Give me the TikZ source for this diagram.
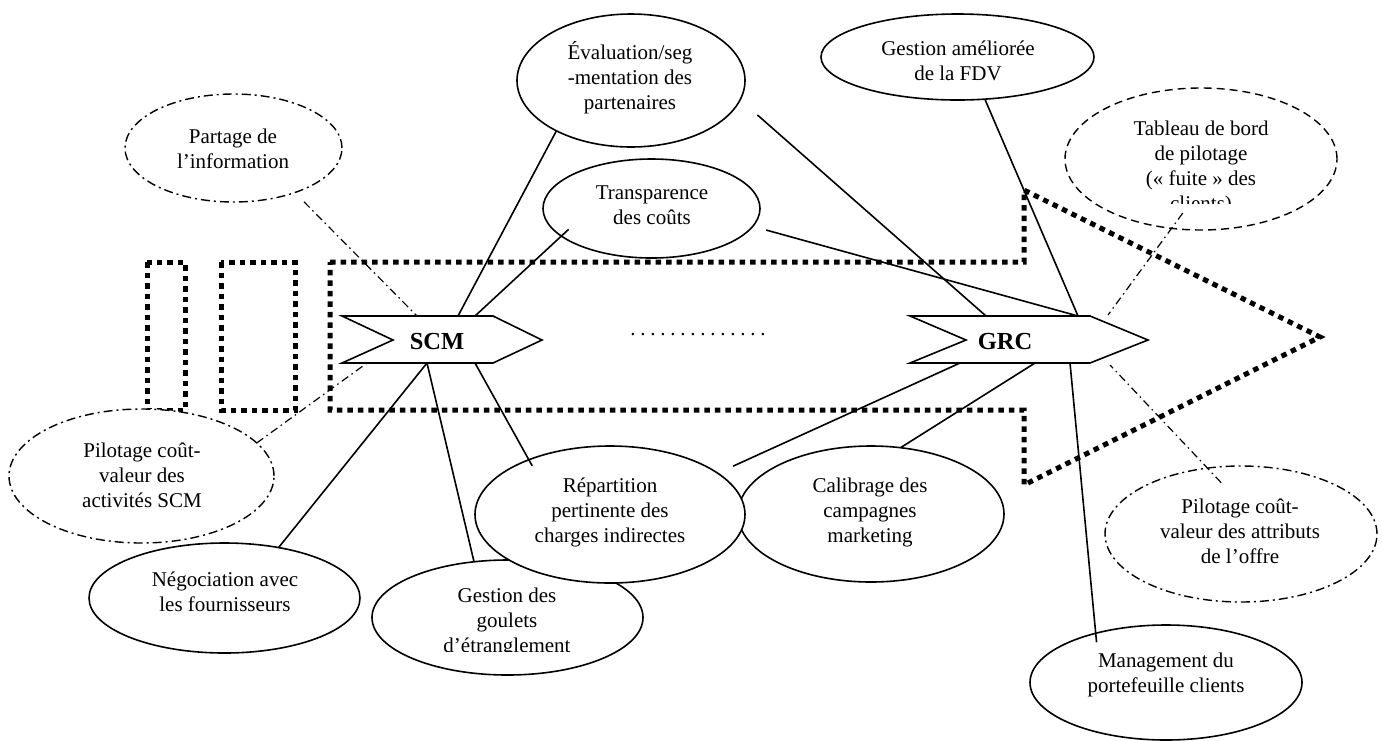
\documentclass[tikz,border=0pt]{standalone}
\usepackage{fontspec}
\setmainfont{Liberation Serif}
\usetikzlibrary{shapes.geometric}
\begin{document}
\begin{tikzpicture}[x=1pt,y=-1pt,
  ell/.style={ellipse, draw, fill=white, line width=1.6pt, inner sep=0pt, outer sep=0pt},
  ddell/.style={ell, line width=1.4pt, dash pattern=on 9pt off 4pt on 2pt off 4pt},
  dashell/.style={ell, line width=1.4pt, dash pattern=on 8pt off 5pt},
  txt/.style={align=center, inner sep=0pt, font=\fontsize{21}{25}\selectfont},
  bigdot/.style={line width=5pt, dash pattern=on 5.5pt off 5pt},
  arrowshape/.style={draw, fill=white, line width=1.6pt, line join=miter},
  conn/.style={line width=1.6pt},
  ddconn/.style={line width=1.2pt, dash pattern=on 8pt off 4pt on 1.5pt off 4pt},
  lbl/.style={font=\fontsize{24.5}{28}\selectfont\bfseries, inner sep=0pt, anchor=base},
]
\useasboundingbox (0,0) rectangle (1382,740);

% thick dotted frames
\draw[bigdot] (147,262) rectangle (185,410);
\draw[bigdot] (221,262) rectangle (295,410);
\draw[bigdot] (330,262) -- (1024,262) -- (1024,190) -- (1320,337) -- (1024,485) -- (1024,410) -- (330,410) -- cycle;

% process arrows
\draw[arrowshape] (342,316) -- (493,316) -- (542,340) -- (493,363) -- (342,363) -- (393,340) -- cycle;
\draw[arrowshape] (910,316) -- (1090,316) -- (1148,340) -- (1090,363) -- (910,363) -- (966,340) -- cycle;
\node[lbl] (scm) at (437,349) {SCM};
\node[lbl] (grc) at (1005,349) {GRC};
\node[txt, anchor=base] (dots) at (698,335) {.\hspace{4.75pt}.\hspace{4.75pt}.\hspace{4.75pt}.\hspace{4.75pt}.\hspace{4.75pt}.\hspace{4.75pt}.\hspace{4.75pt}.\hspace{4.75pt}.\hspace{4.75pt}.\hspace{4.75pt}.\hspace{4.75pt}.\hspace{4.75pt}.\hspace{4.75pt}.};

\coordinate (scmA) at (417,316);
\coordinate (scmB) at (458,316);
\coordinate (scmC) at (475,316);
\coordinate (scmD) at (367,363);
\coordinate (scmE) at (427,363);
\coordinate (scmF) at (475,363);
\coordinate (grcA) at (986,316);
\coordinate (grcB) at (1078,316);
\coordinate (grcC) at (1108,315);
\coordinate (grcD) at (960,363);
\coordinate (grcE) at (1035,363);
\coordinate (grcF) at (1070,363);
\coordinate (grcG) at (1110,365);

% ellipses
\node[ddell, minimum width=217pt, minimum height=108pt] (part) at (233.5,148) {};
\node[ell, minimum width=228pt, minimum height=133pt] (eval) at (631,80.5) {};
\node[ell, minimum width=217pt, minimum height=99pt] (transp) at (651.5,208.5) {};
\node[ell, minimum width=273pt, minimum height=86pt] (gam) at (957.5,57) {};
\node[dashell, minimum width=272pt, minimum height=142pt] (tab) at (1201,159) {};
\node[ddell, minimum width=265pt, minimum height=134pt] (pscm) at (141.5,476) {};
\node[ell, minimum width=271pt, minimum height=110pt] (neg) at (224.5,598) {};
\node[ell, minimum width=271pt, minimum height=115pt] (goul) at (507.5,617.5) {};
\node[ell, minimum width=266pt, minimum height=136pt] (cal) at (871,514) {};
\node[ell, minimum width=270pt, minimum height=137pt] (rep) at (610,514.5) {};
\node[ddell, minimum width=272pt, minimum height=136pt] (poff) at (1241,534) {};
\node[ell, minimum width=272pt, minimum height=115pt] (man) at (1166,682.5) {};

% texts
\node[txt] (partT) at (233,149) {Partage de\\l’information};
\node[txt] (evalT) at (630,78) {Évaluation/seg\\-mentation des\\partenaires};
\node[txt] (transpT) at (652,205) {Transparence\\des coûts};
\node[txt] (gamT) at (958,61) {Gestion améliorée\\de la FDV};
\begin{scope}
\clip (1060,100) rectangle (1340,203);
\node[txt] (tabT) at (1201,167.5) {Tableau de bord\\de pilotage\\(«~fuite~» des\\clients)};
\end{scope}
\node[txt] (pscmT) at (142,475) {Pilotage coût-\\valeur des\\activités SCM};
\node[txt] (negT) at (225,592) {Négociation avec\\les fournisseurs};
\begin{scope}
\clip (380,570) rectangle (640,651);
\node[txt] (goulT) at (507,622) {Gestion des\\goulets\\d’étranglement};
\end{scope}
\node[txt] (repT) at (610,512) {Répartition\\pertinente des\\charges indirectes};
\node[txt] (calT) at (870,512) {Calibrage des\\campagnes\\marketing};
\node[txt] (poffT) at (1240,531) {Pilotage coût-\\valeur des attributs\\de l’offre};
\node[txt] (manT) at (1166,675) {Management du\\portefeuille clients};

% connectors
\draw[conn] (eval.214) -- (scmB);
\draw[conn, shorten <=-10pt] (transp.197) -- (scmC);
\draw[conn, shorten <=23pt] (eval.350) -- (grcA);
\draw[conn, shorten <=14pt] (transp.350) -- (grcB);
\draw[conn] (gam.303) -- (grcB);
\draw[conn] (neg.43) -- (scmE);
\draw[conn] (goul.121) -- (scmE);
\draw[conn, shorten <=-7pt] (rep.146) -- (scmF);
\draw[conn, shorten <=17pt] (rep.21) -- (grcD);
\draw[conn] (cal.66) -- (grcE);
\draw[conn, shorten <=-9pt] (man.145) -- (grcF);
\draw[ddconn, shorten <=13pt] (part.324) -- (scmA);
\draw[ddconn] (pscm.16) -- (scmD);
\draw[ddconn, shorten <=-19pt] (tab.247) -- (grcC);
\draw[ddconn, shorten <=-20pt] (poff.117) -- (grcG);
\end{tikzpicture}
\end{document}
